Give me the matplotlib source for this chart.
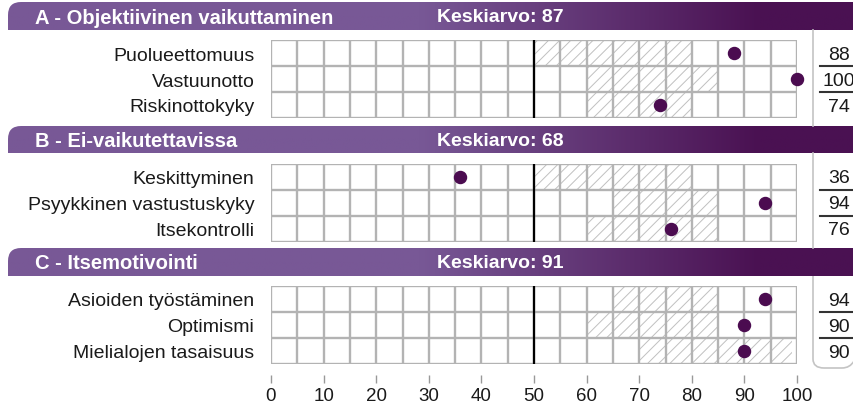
import numpy as np
import matplotlib.pyplot as plt
from matplotlib.path import Path
from matplotlib.patches import PathPatch
from matplotlib.colors import to_rgb
import matplotlib.transforms as mtransforms

plt.rcParams['font.family'] = ['Liberation Sans', 'DejaVu Sans']
plt.rcParams['hatch.linewidth'] = 0.7

# Data
sections = ["A - Objektiivinen vaikuttaminen", "B - Ei-vaikutettavissa", "C - Itsemotivointi"]
averages = [87, 68, 91]
labels_a = ["Puolueettomuus", "Vastuunotto", "Riskinottokyky"]
labels_b = ["Keskittyminen", "Psyykkinen vastustuskyky", "Itsekontrolli"]
labels_c = ["Asioiden työstäminen", "Optimismi", "Mielialojen tasaisuus"]
scores_a = [88, 100, 74]
scores_b = [36, 94, 76]
scores_c = [94, 90, 90]
ranges_a = [(50, 80), (60, 85), (60, 80)]
ranges_b = [(50, 80), (65, 85), (60, 85)]
ranges_c = [(65, 85), (60, 85), (70, 99)]
xticks = [0, 10, 20, 30, 40, 50, 60, 70, 80, 90, 100]

labels = [labels_a, labels_b, labels_c]
scores = [scores_a, scores_b, scores_c]
ranges = [ranges_a, ranges_b, ranges_c]

W, H = 854, 410
fig = plt.figure(figsize=(W / 100, H / 100), dpi=100)

# background axes in pixel units for headers and brackets
bg = fig.add_axes([0, 0, 1, 1])
bg.set_xlim(0, W)
bg.set_ylim(H, 0)
bg.axis('off')

header_y = [(3, 31), (127, 154), (249, 277)]
grid_y = [(41, 119), (164.5, 242.5), (287, 365)]
gx0, gx1 = 271, 797

c_left = np.array(to_rgb('#785896'))
c_right = np.array(to_rgb('#4a1152'))
xs = np.linspace(8, W, 400)
t = np.clip((xs - 420) / (760 - 420), 0, 1)[:, None]
grad = (c_left * (1 - t) + c_right * t)[None, :, :]

for i, (top, bot) in enumerate(header_y):
    r = 13
    verts = [(W, top), (8 + r, top), (8, top), (8, top + r), (8, bot), (W, bot), (W, top)]
    codes = [Path.MOVETO, Path.LINETO, Path.CURVE3, Path.CURVE3, Path.LINETO, Path.LINETO, Path.CLOSEPOLY]
    patch = PathPatch(Path(verts, codes), facecolor='none', edgecolor='none')
    bg.add_patch(patch)
    im = bg.imshow(grad, extent=[8, W, bot, top], aspect='auto', zorder=1)
    im.set_clip_path(patch)
    mid = (top + bot) / 2
    bg.text(35, mid + 1, sections[i], color='white', fontsize=14.5, fontweight='bold',
            va='center', ha='left', zorder=2)
    bg.text(437, mid + 1, f"Keskiarvo: {averages[i]}", color='white', fontsize=14,
            fontweight='bold', va='center', ha='left', zorder=2)

# right side separators
line_col = '#c4c4c4'
bg.plot([813, 813], [31, 127], color=line_col, lw=1.2)
bg.plot([813, 813], [154, 249], color=line_col, lw=1.2)
vb = [(813, 277), (813, 360), (813, 369), (824, 369), (842, 369), (850, 369), (854, 362)]
cb = [Path.MOVETO, Path.LINETO, Path.CURVE3, Path.CURVE3, Path.LINETO, Path.CURVE3, Path.CURVE3]
bg.add_patch(PathPatch(Path(vb, cb), facecolor='none', edgecolor=line_col, lw=1.2))

grid_col = '#b3b3b3'
for i in range(3):
    top, bot = grid_y[i]
    ax = fig.add_axes([gx0 / W, (H - bot) / H, (gx1 - gx0) / W, (bot - top) / H])
    ax.set_facecolor('none')
    for s in ax.spines.values():
        s.set_visible(False)
    if i == 2:
        ax.spines['bottom'].set_position(('outward', 8))
    ax.set_xlim(0, 100)
    ax.set_ylim(3, 0)
    rows = np.arange(3)
    starts = [a for a, b in ranges[i]]
    widths = [b - a for a, b in ranges[i]]
    ax.barh(rows + 0.5, widths, left=starts, height=1, fill=False, hatch='///',
            edgecolor='#c0c0c0', linewidth=0, zorder=1)
    ax.vlines(np.arange(0, 101, 5), 0, 3, color=grid_col, lw=1.7, zorder=2)
    ax.hlines([0, 1, 2, 3], 0, 100, color=grid_col, lw=1.7, zorder=2)
    ax.vlines(50, 0, 3, color='black', lw=1.6, zorder=3)
    ax.scatter(scores[i], rows + 0.5, s=75, color='#4b0c50', zorder=4, clip_on=False)
    ax.set_yticks(rows + 0.5)
    ax.set_yticklabels(labels[i], fontsize=14, color='#1a1a1a')
    ax.tick_params(axis='y', length=0, pad=12)

    trans = mtransforms.blended_transform_factory(ax.transAxes, ax.transData)
    for j, v in enumerate(scores[i]):
        ax.text((839 - gx0) / (gx1 - gx0), j + 0.55, str(v), transform=trans, ha='center',
                va='center', fontsize=14, color='#1a1a1a')
    for j in (1, 2):
        ax.plot([(820 - gx0) / (gx1 - gx0), (W - gx0) / (gx1 - gx0)], [j, j], transform=trans,
                color='#333333', lw=1.5, clip_on=False)

    if i == 2:
        ax.set_xticks(xticks)
        ax.set_xticklabels([str(x) for x in xticks])
        ax.tick_params(axis='x', length=5.5, width=1, color='#999999', pad=3,
                       labelsize=13.5, labelcolor='#1a1a1a')
    else:
        ax.set_xticks([])

fig.savefig('out.png', dpi=100)
